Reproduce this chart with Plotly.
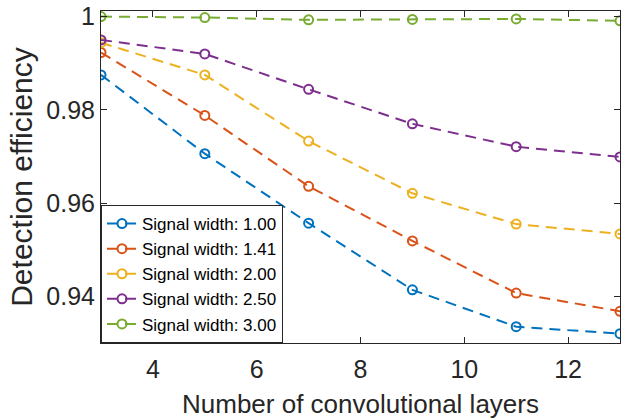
import plotly.graph_objects as go

layers = [3, 5, 7, 9, 11, 13]
labels = ["Signal width: 1.00", "Signal width: 1.41", "Signal width: 2.00",
          "Signal width: 2.50", "Signal width: 3.00"]
eff_100 = [0.9875, 0.9706, 0.9557, 0.9414, 0.9335, 0.9320]
eff_141 = [0.9923, 0.9788, 0.9636, 0.9519, 0.9407, 0.9368]
eff_200 = [0.9944, 0.9875, 0.9733, 0.9621, 0.9555, 0.9534]
eff_250 = [0.9950, 0.9920, 0.9844, 0.9770, 0.9721, 0.9699]
eff_300 = [1.0000, 0.9998, 0.9993, 0.9994, 0.9995, 0.9991]
series = [eff_100, eff_141, eff_200, eff_250, eff_300]
colors = ["#0072BD", "#D95319", "#EDB120", "#7E2F8E", "#77AC30"]

fig = go.Figure()
for name, ys, c in zip(labels, series, colors):
    fig.add_trace(go.Scatter(
        x=layers, y=ys, name=name, mode="lines+markers",
        line=dict(color=c, width=2, dash="11px,7px"),
        marker=dict(symbol="circle-open", size=9, color=c, line=dict(width=2, color=c)),
    ))

axis_common = dict(
    showline=True, linecolor="#262626", linewidth=1, mirror="allticks",
    ticks="inside", ticklen=6, tickcolor="#262626", showgrid=False, zeroline=False,
    tickfont=dict(family="Liberation Sans, Arial", size=25, color="#262626"),
    automargin=False,
)
fig.update_layout(
    width=633, height=419,
    margin=dict(l=101, r=13, t=11, b=76),
    paper_bgcolor="white", plot_bgcolor="white",
    font=dict(family="Liberation Sans, Arial", color="#262626"),
    xaxis=dict(range=[3, 13], tickvals=[4, 6, 8, 10, 12], ticklabelstandoff=4,
               **axis_common,
               title=dict(text="Number of convolutional layers",
                          font=dict(size=26, color="#262626"), standoff=14)),
    yaxis=dict(range=[0.93, 1.0012], tickvals=[0.94, 0.96, 0.98, 1.0],
               ticktext=["0.94", "0.96", "0.98", "1"], **axis_common,
               title=dict(text="Detection efficiency",
                          font=dict(size=30, color="#262626"), standoff=4)),
    legend=dict(x=0, y=0, xanchor="left", yanchor="bottom",
                bgcolor="white", bordercolor="#262626", borderwidth=1,
                font=dict(size=17, color="#000000"), itemwidth=30,
                tracegroupgap=0),
    showlegend=True,
)
fig.write_html("out.html", config={"displayModeBar": False},
               post_script="document.body.style.margin='0';")
